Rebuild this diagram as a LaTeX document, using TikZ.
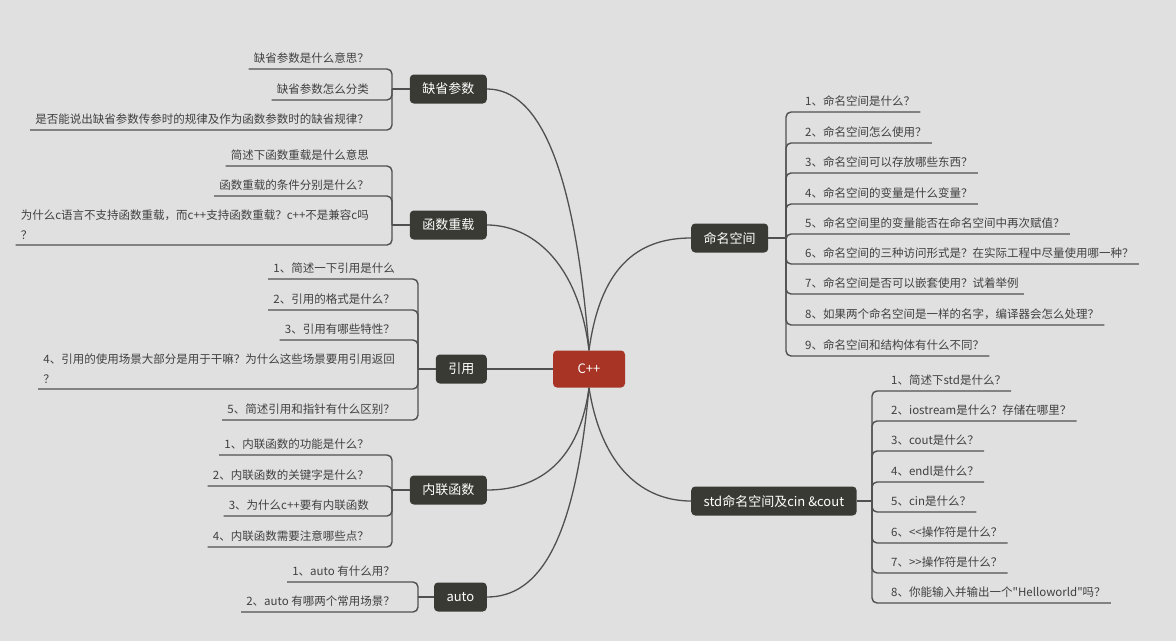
\documentclass[tikz,border=0pt]{standalone}
\usepackage{fontspec}
\setmainfont{Noto Sans CJK SC}[Ligatures=TeXOff]
\usetikzlibrary{positioning}
\definecolor{bgc}{HTML}{E0E0E0}
\definecolor{boxc}{HTML}{3A3A34}
\definecolor{rootc}{HTML}{A73425}
\definecolor{linec}{HTML}{505050}
\definecolor{txtc}{HTML}{404040}

\begin{document}
\begin{tikzpicture}[x=1pt,y=-1pt,
  root/.style={fill=rootc,text=white,rounded corners=4pt,minimum width=72pt,minimum height=37pt,font=\fontsize{13}{15}\selectfont},
  branch/.style={fill=boxc,text=white,rounded corners=4pt,minimum height=29pt,minimum width=51pt,inner xsep=12.5pt,font=\fontsize{13}{15}\selectfont},
  leaf/.style={text=txtc,inner xsep=5pt,inner ysep=5pt,align=left,font=\fontsize{11.5}{20}\selectfont},
  link/.style={draw=linec,line width=1.3pt},
  stub/.style={draw=linec,line width=2.5pt},
  uline/.style={draw=linec,line width=1.4pt,rounded corners=5pt}]
  \fill[bgc] (0,0) rectangle (1176,641);
  \useasboundingbox (0,0) rectangle (1176,641);

  % centre and main topics
  \node[root] (cpp) at (589,369) {C++};
  \node[branch,anchor=east] (qs) at (487,89) {缺省参数};
  \node[branch,anchor=east] (hs) at (487,225) {函数重载};
  \node[branch,anchor=east] (yy) at (487,369) {引用};
  \node[branch,anchor=east] (nl) at (487,490) {内联函数};
  \node[branch,anchor=east] (au) at (487,597) {auto};
  \node[branch,anchor=west] (mm) at (691,238) {命名空间};
  \node[branch,anchor=west] (st) at (691,501) {std命名空间及cin \&cout};

  \draw[link] (cpp.north) .. controls (575,170) and (540,89) .. (qs.east);
  \draw[link] (cpp.north) .. controls (578,260) and (530,225) .. (hs.east);
  \draw[link] (cpp.west) -- (yy.east);
  \draw[link] (cpp.north) .. controls (600,270) and (635,238) .. (mm.west);
  \draw[link] (cpp.south) .. controls (578,470) and (530,490) .. (nl.east);
  \draw[link] (cpp.south) .. controls (575,540) and (540,597) .. (au.east);
  \draw[link] (cpp.south) .. controls (602,470) and (645,501) .. (st.west);

  % bracket points
  \coordinate (qsk) at (392,89);
  \coordinate (hsk) at (392,225);
  \coordinate (yyk) at (418,369);
  \coordinate (nlk) at (392,490);
  \coordinate (auk) at (418,597);
  \coordinate (mmk) at (786,238);
  \coordinate (stk) at (872,501);
  \draw[stub] (qs.west) -- (qsk);
  \draw[stub] (hs.west) -- (hsk);
  \draw[stub] (yy.west) -- (yyk);
  \draw[stub] (nl.west) -- (nlk);
  \draw[stub] (au.west) -- (auk);
  \draw[stub] (mm.east) -- (mmk);
  \draw[stub] (st.east) -- (stk);

  % 缺省参数
  \node[leaf,anchor=south east] (qs1) at (374,69) {缺省参数是什么意思？};
  \node[leaf,anchor=south east] (qs2) at (374,100) {缺省参数怎么分类};
  \node[leaf,anchor=south east] (qs3) at (374,130) {是否能说出缺省参数传参时的规律及作为函数参数时的缺省规律？};
  \draw[uline] (qsk) |- (qs1.south east) -- (qs1.south west);
  \draw[uline] (qsk) |- (qs2.south east) -- (qs2.south west);
  \draw[uline] (qsk) |- (qs3.south east) -- (qs3.south west);

  % 函数重载
  \node[leaf,anchor=south east] (hs1) at (374,166) {简述下函数重载是什么意思};
  \node[leaf,anchor=south east] (hs2) at (374,196) {函数重载的条件分别是什么？};
  \node[leaf,anchor=south east] (hs3) at (374,245) {为什么c语言不支持函数重载，而c++支持函数重载？c++不是兼容c吗\\？};
  \draw[uline] (hsk) |- (hs1.south east) -- (hs1.south west);
  \draw[uline] (hsk) |- (hs2.south east) -- (hs2.south west);
  \draw[uline] (hsk) |- (hs3.south east) -- (hs3.south west);

  % 引用
  \node[leaf,anchor=south east] (yy1) at (400,279) {1、简述一下引用是什么};
  \node[leaf,anchor=south east] (yy2) at (400,310) {2、引用的格式是什么？};
  \node[leaf,anchor=south east] (yy3) at (400,340) {3、引用有哪些特性？};
  \node[leaf,anchor=south east] (yy4) at (400,389) {4、引用的使用场景大部分是用于干嘛？为什么这些场景要用引用返回\\？};
  \node[leaf,anchor=south east] (yy5) at (400,420) {5、简述引用和指针有什么区别？};
  \draw[uline] (yyk) |- (yy1.south east) -- (yy1.south west);
  \draw[uline] (yyk) |- (yy2.south east) -- (yy2.south west);
  \draw[uline] (yyk) |- (yy3.south east) -- (yy3.south west);
  \draw[uline] (yyk) |- (yy4.south east) -- (yy4.south west);
  \draw[uline] (yyk) |- (yy5.south east) -- (yy5.south west);

  % 内联函数
  \node[leaf,anchor=south east] (nl1) at (374,455) {1、内联函数的功能是什么？};
  \node[leaf,anchor=south east] (nl2) at (374,486) {2、内联函数的关键字是什么？};
  \node[leaf,anchor=south east] (nl3) at (374,516) {3、为什么c++要有内联函数};
  \node[leaf,anchor=south east] (nl4) at (374,547) {4、内联函数需要注意哪些点？};
  \draw[uline] (nlk) |- (nl1.south east) -- (nl1.south west);
  \draw[uline] (nlk) |- (nl2.south east) -- (nl2.south west);
  \draw[uline] (nlk) |- (nl3.south east) -- (nl3.south west);
  \draw[uline] (nlk) |- (nl4.south east) -- (nl4.south west);

  % auto
  \node[leaf,anchor=south east] (au1) at (400,582) {1、auto 有什么用？};
  \node[leaf,anchor=south east] (au2) at (400,612) {2、auto 有哪两个常用场景？};
  \draw[uline] (auk) |- (au1.south east) -- (au1.south west);
  \draw[uline] (auk) |- (au2.south east) -- (au2.south west);

  % 命名空间
  \node[leaf,anchor=south west] (mm1) at (800,112) {1、命名空间是什么？};
  \node[leaf,anchor=south west] (mm2) at (800,143) {2、命名空间怎么使用？};
  \node[leaf,anchor=south west] (mm3) at (800,173) {3、命名空间可以存放哪些东西？};
  \node[leaf,anchor=south west] (mm4) at (800,204) {4、命名空间的变量是什么变量？};
  \node[leaf,anchor=south west] (mm5) at (800,234) {5、命名空间里的变量能否在命名空间中再次赋值？};
  \node[leaf,anchor=south west] (mm6) at (800,264) {6、命名空间的三种访问形式是？在实际工程中尽量使用哪一种？};
  \node[leaf,anchor=south west] (mm7) at (800,294) {7、命名空间是否可以嵌套使用？试着举例};
  \node[leaf,anchor=south west] (mm8) at (800,325) {8、如果两个命名空间是一样的名字，编译器会怎么处理？};
  \node[leaf,anchor=south west] (mm9) at (800,356) {9、命名空间和结构体有什么不同？};
  \draw[uline] (mmk) |- (mm1.south west) -- (mm1.south east);
  \draw[uline] (mmk) |- (mm2.south west) -- (mm2.south east);
  \draw[uline] (mmk) |- (mm3.south west) -- (mm3.south east);
  \draw[uline] (mmk) |- (mm4.south west) -- (mm4.south east);
  \draw[uline] (mmk) |- (mm5.south west) -- (mm5.south east);
  \draw[uline] (mmk) |- (mm6.south west) -- (mm6.south east);
  \draw[uline] (mmk) |- (mm7.south west) -- (mm7.south east);
  \draw[uline] (mmk) |- (mm8.south west) -- (mm8.south east);
  \draw[uline] (mmk) |- (mm9.south west) -- (mm9.south east);

  % std命名空间及cin &cout
  \node[leaf,anchor=south west] (st1) at (886,391) {1、简述下std是什么？};
  \node[leaf,anchor=south west] (st2) at (886,421) {2、iostream是什么？存储在哪里？};
  \node[leaf,anchor=south west] (st3) at (886,451) {3、cout是什么？};
  \node[leaf,anchor=south west] (st4) at (886,482) {4、endl是什么？};
  \node[leaf,anchor=south west] (st5) at (886,512) {5、cin是什么？};
  \node[leaf,anchor=south west] (st6) at (886,543) {6、<<操作符是什么？};
  \node[leaf,anchor=south west] (st7) at (886,573) {7、>>操作符是什么？};
  \node[leaf,anchor=south west] (st8) at (886,603) {8、你能输入并输出一个"Helloworld"吗？};
  \draw[uline] (stk) |- (st1.south west) -- (st1.south east);
  \draw[uline] (stk) |- (st2.south west) -- (st2.south east);
  \draw[uline] (stk) |- (st3.south west) -- (st3.south east);
  \draw[uline] (stk) |- (st4.south west) -- (st4.south east);
  \draw[uline] (stk) |- (st5.south west) -- (st5.south east);
  \draw[uline] (stk) |- (st6.south west) -- (st6.south east);
  \draw[uline] (stk) |- (st7.south west) -- (st7.south east);
  \draw[uline] (stk) |- (st8.south west) -- (st8.south east);
\end{tikzpicture}
\end{document}
